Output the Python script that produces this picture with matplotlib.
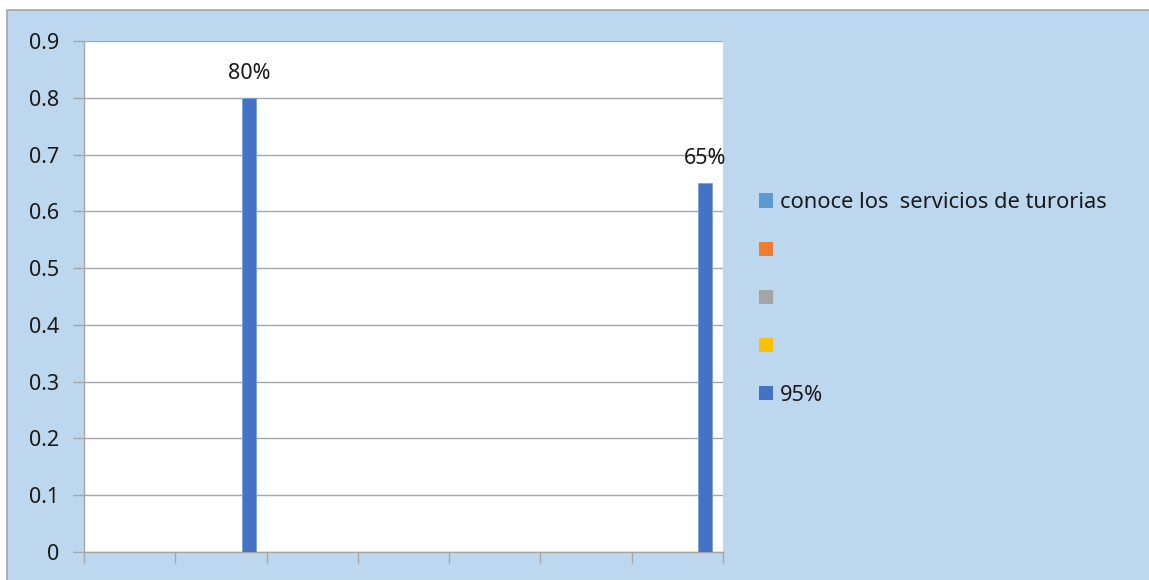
import matplotlib
matplotlib.use("Agg")
import matplotlib.pyplot as plt
from matplotlib.patches import Rectangle
import numpy as np

plt.rcParams['font.family'] = ['Noto Sans', 'DejaVu Sans']

categories = ["", "", "", "", "", "", ""]
series_names = ["conoce los  servicios de turorias", "", "", "", "95%"]
series_colors = ["#5B9BD5", "#ED7D31", "#A5A5A5", "#FFC000", "#4472C4"]
series_values = [
    [0, 0, 0, 0, 0, 0, 0],
    [0, 0, 0, 0, 0, 0, 0],
    [0, 0, 0, 0, 0, 0, 0],
    [0, 0, 0, 0, 0, 0, 0],
    [0, 0.80, 0, 0, 0, 0, 0.65],
]
yticks = [0, 0.1, 0.2, 0.3, 0.4, 0.5, 0.6, 0.7, 0.8, 0.9]
ytick_labels = ["0", "0.1", "0.2", "0.3", "0.4", "0.5", "0.6", "0.7", "0.8", "0.9"]

W, H = 1149, 580
fig = plt.figure(figsize=(W / 100, H / 100), dpi=100, facecolor="white")
bg = Rectangle((7 / W, -0.1), 1.2, 1.1 - 10 / H, transform=fig.transFigure,
               facecolor="#BDD7EE", edgecolor="#A6A6A6", linewidth=1.2, zorder=-10)
fig.add_artist(bg)

ax = fig.add_axes([84 / W, 28 / H, (723 - 84) / W, (552 - 41) / H])
ax.set_zorder(1)
ax.set_facecolor("white")

n_series = len(series_names)
bw = 1 / 6.5
x = np.arange(len(categories))
handles = []
for i, (name, col, vals) in enumerate(zip(series_names, series_colors, series_values)):
    offs = (i - (n_series - 1) / 2) * bw
    ax.bar(x + offs, vals, width=bw, color=col, edgecolor="#7DA0D8" if i == 4 else col,
           linewidth=0.6, zorder=3)
    handles.append(Rectangle((0, 0), 1, 1, facecolor=col, edgecolor="none"))
    for xi, v in zip(x + offs, vals):
        if v > 0:
            ax.annotate(f"{v*100:.0f}%", (xi, v), xytext=(0, 13.5), textcoords="offset points",
                        ha="center", va="baseline", fontsize=15.5, color="#1a1a1a",
                        zorder=5, annotation_clip=False)

ax.set_xlim(-0.5, len(categories) - 0.5)
ax.set_ylim(0, 0.9)
ax.set_yticks(yticks)
ax.set_yticklabels(ytick_labels, fontsize=15.5, color="#1a1a1a")
ax.set_xticks(np.arange(len(categories) + 1) - 0.5)
ax.set_xticklabels([""] * (len(categories) + 1))
ax.tick_params(axis="y", length=8, width=1, color="#A6A6A6", pad=10)
ax.tick_params(axis="x", length=8, width=1, color="#A6A6A6", direction="out")
ax.grid(axis="y", color="#A6A6A6", linewidth=1, zorder=1)
ax.set_axisbelow(True)
for s in ["top", "right"]:
    ax.spines[s].set_visible(False)
for s in ["left", "bottom"]:
    ax.spines[s].set_color("#A6A6A6")
    ax.spines[s].set_linewidth(1)

leg = fig.legend(handles, series_names, loc="center left",
                 bbox_to_anchor=(759 / W, 1 - 299 / H), frameon=False,
                 fontsize=15.7, handlelength=0.65, handleheight=0.65, handletextpad=0.3,
                 labelspacing=1.24, borderpad=0, borderaxespad=0)
for t in leg.get_texts():
    t.set_color("#1a1a1a")

fig.savefig("out.png", dpi=100, facecolor="white")
